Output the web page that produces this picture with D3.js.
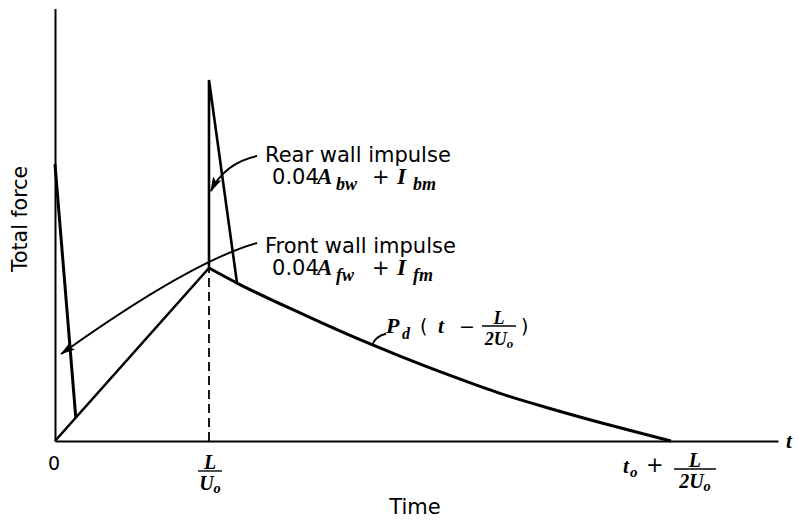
<!DOCTYPE html>
<html><head><meta charset="utf-8">
<script src="https://cdn.jsdelivr.net/npm/d3@7"></script>
<style>
body{margin:0;background:#fff}
svg{display:block}
.sans{font-family:"DejaVu Sans",sans-serif;fill:#000}
.math{font-family:"Liberation Serif","DejaVu Serif",serif;font-style:italic;font-weight:bold;fill:#000}
</style></head><body>
<svg id="chart" width="799" height="529"></svg>
<script>
// Time measured in units of L/U_o, force in units of the front-wall peak reached at t = L/U_o.
const tickTimes = [0, 1, 4];
const riseTime = [0, 1];
const riseForce = [0, 1];
const frontImpulseTime = [0, 0.135];
const frontImpulseForce = [1.6, 0.135];
const rearImpulseTime = [1, 1, 1.182];
const rearImpulseForce = [1, 2.087, 0.913];
const decayTime = [1, 1.182, 1.591, 1.916, 2.240, 2.565, 2.890, 3.214, 3.539, 3.799, 4.0];
const decayForce = [1, 0.913, 0.740, 0.610, 0.491, 0.379, 0.275, 0.188, 0.107, 0.046, 0];
const arrivalTime = [1, 1];
const arrivalForce = [0, 1];

const svg = d3.select("#chart");
const x = d3.scaleLinear().domain([0, 4.695]).range([55, 778]);
const y = d3.scaleLinear().domain([0, 2.5]).range([441, 8.5]);
const line = d3.line().x(d => x(d[0])).y(d => y(d[1]));
const smooth = d3.line().x(d => x(d[0])).y(d => y(d[1])).curve(d3.curveMonotoneX);
const zip = (a, b) => a.map((v, i) => [v, b[i]]);

// arrowhead for the label leaders
svg.append("defs").append("marker")
  .attr("id", "head").attr("viewBox", "0 0 15 9")
  .attr("refX", 14).attr("refY", 4.5)
  .attr("markerWidth", 15).attr("markerHeight", 9)
  .attr("markerUnits", "userSpaceOnUse").attr("orient", "auto")
  .append("path").attr("d", "M0,0 L15,4.5 L0,9 L3,4.5 Z").attr("fill", "#000");

// axes: bare lines, no ticks
svg.append("g").attr("transform", `translate(0,${y(0)})`)
  .call(d3.axisBottom(x).tickValues([]).tickSizeOuter(0));
svg.append("g").attr("transform", `translate(${x(0)},0)`)
  .call(d3.axisLeft(y).tickValues([]).tickSizeOuter(0));
svg.selectAll(".domain").attr("stroke", "#000").attr("stroke-width", 2);

// dashed marker at the rear-wall arrival time
svg.append("path").datum(zip(arrivalTime, arrivalForce)).attr("d", line)
  .attr("fill", "none").attr("stroke", "#000").attr("stroke-width", 1.8)
  .attr("stroke-dasharray", "9,5");

// force history
svg.append("path").datum(zip(riseTime, riseForce)).attr("d", line)
  .attr("fill", "none").attr("stroke", "#000").attr("stroke-width", 2.6);
svg.append("path").datum(zip(decayTime, decayForce)).attr("d", smooth)
  .attr("fill", "none").attr("stroke", "#000").attr("stroke-width", 3).attr("stroke-linejoin", "round");
svg.append("path").datum(zip(frontImpulseTime, frontImpulseForce)).attr("d", line)
  .attr("fill", "none").attr("stroke", "#000").attr("stroke-width", 3);
svg.append("path").datum(zip(rearImpulseTime, rearImpulseForce)).attr("d", line)
  .attr("fill", "none").attr("stroke", "#000").attr("stroke-width", 2.6);

// text helpers: a run is [class, x, baseline, size, string]
function txt(cls, px, py, size, s, anchor) {
  return svg.append("text").attr("class", cls).attr("x", px).attr("y", py)
    .attr("font-size", size).attr("text-anchor", anchor || "start").text(s);
}
function runs(list) {
  const t = svg.append("text");
  list.forEach(([cls, px, py, size, s]) => {
    t.append("tspan").attr("class", cls).attr("x", px).attr("y", py)
      .attr("font-size", size).text(s);
  });
  return t;
}
function fraction(cx, yBar, halfW, num, den, size) {
  txt("math", cx, yBar - 2, size, num, "middle");
  svg.append("line").attr("x1", cx - halfW).attr("x2", cx + halfW)
    .attr("y1", yBar).attr("y2", yBar).attr("stroke", "#000").attr("stroke-width", 1.4);
  const d = txt("math", cx, yBar + 19, size, den[0], "middle");
  d.append("tspan").attr("font-size", size * 0.72).attr("dy", 3).text(den[1]);
}

// tick labels on the time axis
txt("sans", x(tickTimes[0]) - 1, 470, 19, "0", "middle");
fraction(x(tickTimes[1]) + 1, 471, 12, "L", ["U", "o"], 20);
runs([["math", 623, 473, 21, "t"], ["math", 630, 477, 15, "o"], ["sans", 646, 472, 21, "+"]]);
fraction(x(tickTimes[2]) + 24, 469, 21, "L", ["2U", "o"], 20);
txt("math", 786, 448, 21, "t");

// axis titles
txt("sans", 415, 514, 21, "Time", "middle");
svg.append("text").attr("class", "sans").attr("transform", "translate(27,219) rotate(-90)")
  .attr("text-anchor", "middle").attr("font-size", 20.5).text("Total force");

// impulse annotations
function impulse(tx, ty, title, a, b) {
  const px = x(tx), py = y(ty);
  txt("sans", px, py, 21, title);
  const b2 = py + 22;
  runs([
    ["sans", px + 7, b2, 21, "0.04"],
    ["math", px + 52, b2, 23, "A"],
    ["math", px + 71, b2 + 6, 18, a],
    ["sans", px + 107, b2, 21, "+"],
    ["math", px + 132, b2, 23, "I"],
    ["math", px + 148, b2 + 6, 18, b]
  ]);
}
impulse(1.364, 1.613, "Rear wall impulse", "bw", "bm");
impulse(1.364, 1.087, "Front wall impulse", "fw", "fm");

function curveArrow(p0, c, p1, head) {
  const p = d3.path();
  p.moveTo(x(p0[0]), y(p0[1]));
  p.quadraticCurveTo(x(c[0]), y(c[1]), x(p1[0]), y(p1[1]));
  const el = svg.append("path").attr("d", p.toString()).attr("fill", "none")
    .attr("stroke", "#000").attr("stroke-width", 2);
  if (head) el.attr("marker-end", "url(#head)");
}
curveArrow([1.312, 1.647], [1.104, 1.607], [1.012, 1.445], true);
curveArrow([1.312, 1.145], [0.877, 1.035], [0.04, 0.503], true);

// decay curve label with its short leader onto the curve
curveArrow([2.060, 0.555], [2.080, 0.605], [2.150, 0.620], false);
runs([
  ["math", 386, 333, 22, "P"],
  ["math", 402, 339, 16, "d"],
  ["sans", 420, 333, 19, "("],
  ["math", 438, 333, 21, "t"],
  ["sans", 459, 333, 19, "\u2212"]
]);
fraction(499, 326, 17, "L", ["2U", "o"], 18);
txt("sans", 521, 333, 19, ")");
</script>
</body></html>
